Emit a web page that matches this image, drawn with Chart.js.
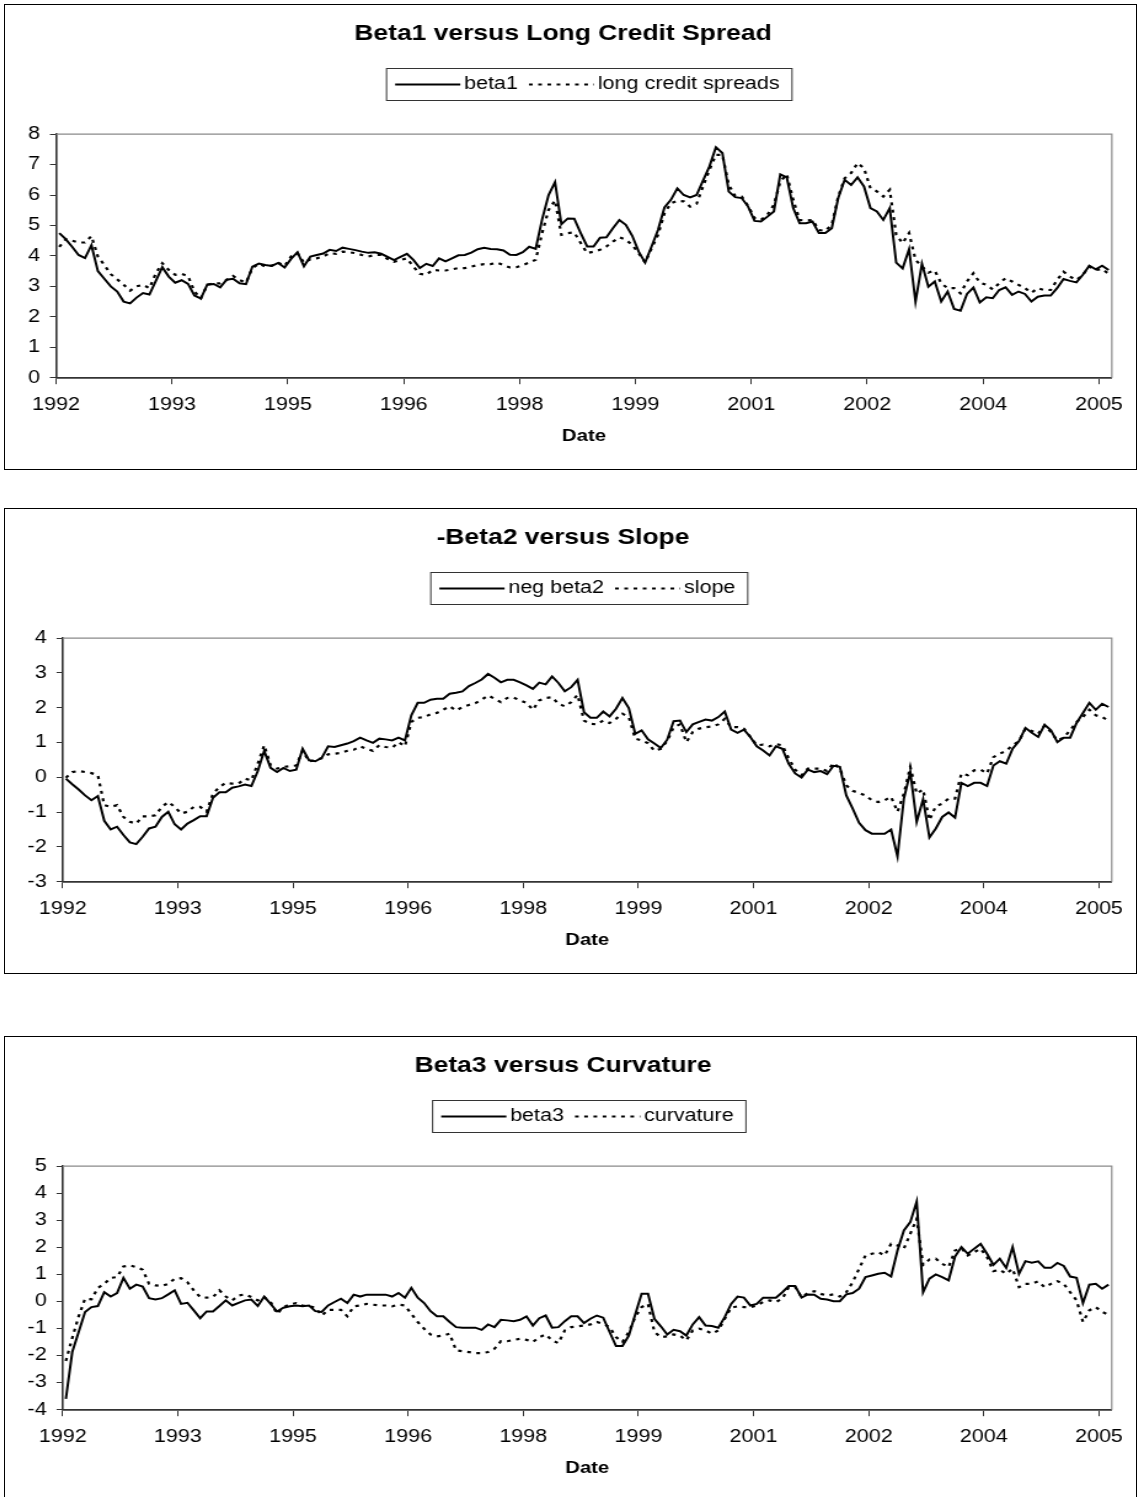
<!DOCTYPE html>
<html>
<head>
<meta charset="utf-8">
<title>Beta1, -Beta2, Beta3</title>
<script src="https://cdn.jsdelivr.net/npm/chart.js@4.4.1/dist/chart.umd.min.js"></script>
<style>
  html, body { margin: 0; padding: 0; background: #fff; }
  body { width: 1141px; height: 1497px; overflow: hidden; position: relative; }
  .chart-box { position: absolute; left: 4px; width: 1131px; height: 464px; border: 1px solid #000; overflow: hidden; background: #fff; }
  /* the original picture is stretched sideways, so the canvas is too */
  .chart-box canvas { transform: scaleX(1.23); transform-origin: 0 0; }
</style>
</head>
<body>
<div class="chart-box" style="top:4px"><canvas id="chart1" width="919" height="464"></canvas></div>
<div class="chart-box" style="top:508px"><canvas id="chart2" width="919" height="464"></canvas></div>
<div class="chart-box" style="top:1036px"><canvas id="chart3" width="919" height="464"></canvas></div>
<script>
// x axis: one point per month, a label every 18 points
const tickLabels = ['1992', '1993', '1995', '1996', '1998', '1999', '2001', '2002', '2004', '2005'];
const tickEvery = 18;

// chart 1
const beta1 = [
  4.75, 4.55, 4.3, 4.03, 3.93, 4.35, 3.5, 3.25, 3.0, 2.83,
  2.5, 2.44, 2.63, 2.78, 2.73, 3.18, 3.63, 3.32, 3.12, 3.2,
  3.08, 2.7, 2.6, 3.06, 3.08, 2.97, 3.22, 3.25, 3.1, 3.07,
  3.65, 3.75, 3.7, 3.67, 3.77, 3.62, 3.9, 4.12, 3.66, 3.98,
  4.03, 4.08, 4.2, 4.16, 4.27, 4.23, 4.19, 4.14, 4.1, 4.12,
  4.07, 3.97, 3.86, 3.97, 4.07, 3.87, 3.6, 3.74, 3.67, 3.92,
  3.82, 3.92, 4.02, 4.03, 4.11, 4.22, 4.27, 4.23, 4.22, 4.18,
  4.04, 4.03, 4.12, 4.3, 4.23, 5.2, 6.0, 6.42, 5.04, 5.23,
  5.22, 4.75, 4.31, 4.31, 4.6, 4.61, 4.91, 5.18, 5.02, 4.66,
  4.14, 3.78, 4.31, 4.85, 5.59, 5.84, 6.22, 6.0, 5.92, 6.0,
  6.47, 6.94, 7.57, 7.38, 6.11, 5.93, 5.9, 5.62, 5.15, 5.13,
  5.29, 5.46, 6.68, 6.58, 5.57, 5.07, 5.07, 5.13, 4.75, 4.75,
  4.91, 5.9, 6.5, 6.33, 6.58, 6.28, 5.57, 5.46, 5.18, 5.57,
  3.78, 3.59, 4.22, 2.5, 3.74, 2.99, 3.16, 2.5, 2.83, 2.26,
  2.2, 2.75, 2.96, 2.47, 2.64, 2.61, 2.88, 2.97, 2.72, 2.83,
  2.75, 2.5, 2.66, 2.7, 2.7, 2.94, 3.24, 3.18, 3.13, 3.38,
  3.68, 3.56, 3.68, 3.54
];
const longCreditSpreads = [
  4.3, 4.55, 4.5, 4.44, 4.44, 4.65, 3.98, 3.7, 3.4, 3.23,
  3.05, 2.86, 3.0, 3.05, 2.94, 3.43, 3.76, 3.54, 3.38, 3.41,
  3.34, 2.83, 2.61, 3.05, 3.1, 3.1, 3.21, 3.34, 3.21, 3.12,
  3.6, 3.74, 3.65, 3.68, 3.78, 3.67, 3.98, 4.09, 3.78, 3.89,
  3.92, 3.98, 4.09, 4.07, 4.14, 4.12, 4.09, 4.03, 3.98, 4.03,
  4.03, 3.9, 3.81, 3.87, 3.92, 3.65, 3.41, 3.38, 3.54, 3.52,
  3.52, 3.56, 3.6, 3.6, 3.65, 3.7, 3.73, 3.73, 3.78, 3.7,
  3.62, 3.63, 3.7, 3.78, 3.87, 4.75, 5.51, 5.82, 4.69, 4.75,
  4.77, 4.42, 4.09, 4.14, 4.2, 4.31, 4.47, 4.61, 4.53, 4.36,
  4.09, 3.78, 4.25, 4.69, 5.4, 5.73, 5.81, 5.79, 5.62, 5.71,
  6.28, 6.83, 7.32, 7.32, 6.33, 5.97, 5.95, 5.64, 5.24, 5.18,
  5.35, 5.68, 6.44, 6.68, 5.84, 5.18, 5.16, 5.18, 4.85, 4.82,
  5.02, 5.95, 6.55, 6.72, 7.05, 6.88, 6.22, 6.12, 5.95, 6.17,
  4.69, 4.42, 4.75, 3.87, 3.65, 3.45, 3.52, 3.1, 2.94, 2.94,
  2.77, 3.16, 3.43, 3.12, 3.05, 2.9, 3.1, 3.27, 3.16, 3.05,
  2.94, 2.79, 2.94, 2.88, 2.88, 3.21, 3.48, 3.32, 3.21, 3.38,
  3.65, 3.54, 3.57, 3.41
];

// chart 2
const negBeta2 = [
  -0.04, -0.2, -0.35, -0.52, -0.66, -0.54, -1.25, -1.5, -1.42, -1.66,
  -1.87, -1.92, -1.71, -1.47, -1.42, -1.14, -0.99, -1.35, -1.5, -1.33,
  -1.23, -1.12, -1.12, -0.59, -0.43, -0.43, -0.3, -0.26, -0.21, -0.25,
  0.18, 0.76, 0.27, 0.15, 0.27, 0.18, 0.22, 0.82, 0.49, 0.46,
  0.56, 0.89, 0.87, 0.92, 0.97, 1.04, 1.14, 1.06, 0.99, 1.11,
  1.09, 1.06, 1.14, 1.06, 1.78, 2.14, 2.14, 2.23, 2.26, 2.26,
  2.4, 2.43, 2.47, 2.62, 2.71, 2.81, 2.97, 2.86, 2.73, 2.8,
  2.8, 2.73, 2.64, 2.54, 2.72, 2.67, 2.9, 2.71, 2.47, 2.59,
  2.8, 1.87, 1.71, 1.71, 1.89, 1.75, 1.97, 2.28, 1.99, 1.25,
  1.35, 1.09, 0.97, 0.84, 1.08, 1.61, 1.63, 1.3, 1.52, 1.59,
  1.66, 1.63, 1.73, 1.89, 1.37, 1.28, 1.37, 1.16, 0.89, 0.77,
  0.63, 0.89, 0.82, 0.39, 0.11, -0.01, 0.22, 0.15, 0.18, 0.09,
  0.33, 0.3, -0.52, -0.9, -1.31, -1.52, -1.62, -1.62, -1.62, -1.5,
  -2.27, -0.61, 0.15, -1.28, -0.63, -1.73, -1.47, -1.14, -1.01, -1.16,
  -0.16, -0.25, -0.16, -0.16, -0.25, 0.34, 0.46, 0.39, 0.82, 1.04,
  1.42, 1.28, 1.16, 1.51, 1.35, 1.01, 1.14, 1.14, 1.56, 1.85,
  2.14, 1.94, 2.11, 2.02
];
const slope = [
  -0.01, 0.15, 0.18, 0.15, 0.12, 0.06, -0.8, -0.85, -0.8, -1.14,
  -1.28, -1.33, -1.12, -1.12, -1.09, -0.85, -0.71, -0.85, -1.04, -0.99,
  -0.85, -0.85, -0.99, -0.47, -0.28, -0.16, -0.18, -0.18, -0.04, -0.09,
  0.39, 0.92, 0.34, 0.25, 0.3, 0.32, 0.34, 0.76, 0.46, 0.49,
  0.55, 0.66, 0.68, 0.7, 0.76, 0.79, 0.89, 0.82, 0.76, 0.92,
  0.87, 0.85, 1.01, 0.89, 1.59, 1.71, 1.73, 1.81, 1.85, 1.94,
  2.04, 1.92, 2.02, 2.08, 2.13, 2.23, 2.35, 2.26, 2.16, 2.28,
  2.29, 2.21, 2.14, 1.94, 2.21, 2.28, 2.3, 2.11, 2.04, 2.16,
  2.37, 1.63, 1.54, 1.52, 1.63, 1.56, 1.68, 1.83, 1.73, 1.11,
  1.06, 0.98, 0.76, 0.82, 1.04, 1.44, 1.52, 1.01, 1.3, 1.4,
  1.44, 1.46, 1.52, 1.68, 1.44, 1.44, 1.4, 1.16, 0.92, 0.94,
  0.89, 0.95, 0.92, 0.54, 0.22, 0.06, 0.25, 0.25, 0.25, 0.18,
  0.41, 0.25, -0.23, -0.39, -0.45, -0.52, -0.66, -0.71, -0.66, -0.56,
  -0.99, -0.47, 0.3, -0.47, -0.35, -1.23, -0.83, -0.76, -0.61, -0.61,
  0.11, 0.06, 0.2, 0.22, 0.11, 0.58, 0.68, 0.76, 0.92, 1.04,
  1.4, 1.33, 1.25, 1.49, 1.3, 1.06, 1.14, 1.35, 1.59, 1.73,
  1.94, 1.78, 1.73, 1.63
];

// chart 3
const beta3 = [
  -3.6, -1.87, -1.13, -0.39, -0.21, -0.17, 0.34, 0.18, 0.31, 0.87,
  0.47, 0.62, 0.55, 0.12, 0.07, 0.12, 0.26, 0.41, -0.09, -0.05,
  -0.33, -0.62, -0.37, -0.37, -0.17, 0.04, -0.15, -0.05, 0.04, 0.07,
  -0.17, 0.18, -0.09, -0.37, -0.23, -0.18, -0.15, -0.18, -0.15, -0.36,
  -0.39, -0.15, -0.02, 0.1, -0.06, 0.25, 0.18, 0.25, 0.25, 0.25,
  0.25, 0.18, 0.31, 0.14, 0.5, 0.14, -0.06, -0.36, -0.55, -0.55,
  -0.76, -0.95, -0.97, -0.97, -0.97, -1.05, -0.85, -0.95, -0.68, -0.7,
  -0.73, -0.68, -0.55, -0.89, -0.62, -0.52, -0.97, -0.95, -0.73, -0.55,
  -0.55, -0.8, -0.64, -0.52, -0.6, -1.13, -1.65, -1.65, -1.26, -0.48,
  0.28, 0.28, -0.64, -0.92, -1.22, -1.05, -1.1, -1.26, -0.85, -0.58,
  -0.89, -0.91, -0.97, -0.58, -0.09, 0.18, 0.14, -0.15, -0.09, 0.14,
  0.14, 0.14, 0.34, 0.57, 0.57, 0.14, 0.26, 0.25, 0.1, 0.07,
  0.01, 0.01, 0.26, 0.31, 0.47, 0.9, 0.96, 1.02, 1.06, 0.92,
  1.88, 2.62, 2.93, 3.69, 0.34, 0.84, 1.0, 0.9, 0.78, 1.66,
  2.01, 1.76, 1.95, 2.13, 1.76, 1.35, 1.58, 1.24, 2.01, 1.02,
  1.49, 1.43, 1.48, 1.24, 1.24, 1.42, 1.31, 0.92, 0.87, -0.06,
  0.62, 0.65, 0.47, 0.62
];
const curvature = [
  -2.2, -1.35, -0.55, 0.1, 0.08, 0.5, 0.65, 0.87, 0.9, 1.29,
  1.33, 1.27, 1.17, 0.65, 0.59, 0.57, 0.65, 0.84, 0.86, 0.71,
  0.41, 0.16, 0.14, 0.16, 0.41, 0.18, 0.04, 0.22, 0.26, 0.16,
  0.04, 0.16, -0.02, -0.46, -0.21, -0.11, -0.06, -0.15, -0.18, -0.23,
  -0.52, -0.31, -0.31, -0.31, -0.55, -0.18, -0.15, -0.09, -0.12, -0.15,
  -0.15, -0.18, -0.12, -0.15, -0.46, -0.76, -1.01, -1.22, -1.29, -1.26,
  -1.19, -1.81, -1.84, -1.87, -1.91, -1.91, -1.87, -1.75, -1.47, -1.47,
  -1.42, -1.38, -1.42, -1.5, -1.32, -1.22, -1.44, -1.54, -1.07, -0.95,
  -0.92, -0.89, -0.85, -0.76, -0.83, -0.95, -1.32, -1.5, -1.13, -0.58,
  -0.21, -0.09, -1.13, -1.32, -1.29, -1.22, -1.26, -1.44, -1.07, -1.01,
  -1.07, -1.19, -1.07, -0.64, -0.23, -0.18, -0.21, -0.21, -0.15, -0.02,
  0.04, -0.02, 0.1, 0.53, 0.53, 0.16, 0.31, 0.38, 0.28, 0.22,
  0.26, 0.18, 0.34, 0.71, 1.21, 1.7, 1.76, 1.82, 1.7, 2.13,
  2.07, 1.95, 2.5, 3.05, 1.35, 1.55, 1.58, 1.39, 1.27, 1.88,
  1.97, 1.7, 1.82, 1.95, 1.64, 1.12, 1.17, 1.02, 1.21, 0.53,
  0.65, 0.65, 0.74, 0.53, 0.65, 0.75, 0.65, 0.34, 0.04, -0.76,
  -0.33, -0.21, -0.39, -0.49
];

const FONT = '"Liberation Sans", Arial, sans-serif';
const AXIS_COLOR = '#333';

Chart.defaults.font.family = FONT;
Chart.defaults.color = '#000';

function toPoints(values) {
  return values.map((v, i) => ({ x: i, y: v }));
}

// grey frame on the top and right side of the plot area
const plotFrame = {
  id: 'plotFrame',
  afterDraw(chart) {
    const { ctx, chartArea } = chart;
    ctx.save();
    ctx.strokeStyle = '#8a8a8a';
    ctx.lineWidth = 1.2;
    ctx.beginPath();
    ctx.moveTo(chartArea.left, chartArea.top);
    ctx.lineTo(chartArea.right, chartArea.top);
    ctx.lineTo(chartArea.right, chartArea.bottom);
    ctx.stroke();
    ctx.restore();
  }
};

// legend inside a box, Excel style
const boxLegend = {
  id: 'boxLegend',
  afterDraw(chart, args, opts) {
    const ctx = chart.ctx;
    const datasets = chart.data.datasets;
    ctx.save();
    ctx.font = opts.fontSize + 'px ' + FONT;
    const textWidths = datasets.map(ds => ctx.measureText(ds.label).width);

    let width = opts.padLeft + opts.padRight;
    textWidths.forEach((w, i) => {
      width += opts.sample + opts.gap + w;
      if (i > 0) width += opts.itemGap;
    });
    const left = opts.centerX - width / 2;
    const midY = opts.top + opts.height / 2;

    ctx.strokeStyle = '#333';
    ctx.lineWidth = 1;
    ctx.strokeRect(left, opts.top, width, opts.height);

    let x = left + opts.padLeft;
    datasets.forEach((ds, i) => {
      if (i > 0) x += opts.itemGap;
      ctx.beginPath();
      ctx.setLineDash(ds.borderDash || []);
      ctx.lineWidth = ds.borderWidth;
      ctx.strokeStyle = ds.borderColor;
      ctx.moveTo(x, midY);
      ctx.lineTo(x + opts.sample, midY);
      ctx.stroke();
      ctx.setLineDash([]);
      x += opts.sample + opts.gap;
      ctx.fillStyle = '#000';
      ctx.textBaseline = 'middle';
      ctx.textAlign = 'left';
      ctx.fillText(ds.label, x, midY);
      x += textWidths[i];
    });
    ctx.restore();
  }
};

function renderChart(canvasId, title, names, solid, dotted, yMin, yMax, yAxisWidth) {
  const ctx = document.getElementById(canvasId).getContext('2d');

  return new Chart(ctx, {
    type: 'line',
    data: {
      datasets: [
        {
          label: names[0],
          data: toPoints(solid),
          borderColor: '#000',
          borderWidth: 2,
          pointRadius: 0,
          tension: 0
        },
        {
          label: names[1],
          data: toPoints(dotted),
          borderColor: '#000',
          borderWidth: 2.2,
          borderDash: [3, 4.5],
          pointRadius: 0,
          tension: 0
        }
      ]
    },
    options: {
      responsive: false,
      animation: false,
      events: [],
      layout: { padding: { left: 0, right: 11.7, top: 0, bottom: 0 } },
      scales: {
        x: {
          type: 'linear',
          min: -0.5,
          max: solid.length - 0.5,
          afterBuildTicks: (scale) => {
            scale.ticks = tickLabels.map((t, k) => ({ value: k * tickEvery - 0.5 }));
          },
          afterFit: (scale) => { scale.height = 91.3; },
          ticks: {
            autoSkip: false,
            maxRotation: 0,
            padding: 10,
            font: { size: 17.5 },
            callback: (value, index) => tickLabels[index]
          },
          grid: { drawOnChartArea: false, tickLength: 6.5, color: AXIS_COLOR, lineWidth: 1 },
          border: { color: AXIS_COLOR, width: 1.8 },
          title: {
            display: true,
            text: 'Date',
            font: { size: 16.5, weight: 'bold' },
            padding: { top: 0, bottom: 23 }
          }
        },
        y: {
          min: yMin,
          max: yMax,
          afterFit: (scale) => { scale.width = yAxisWidth; },
          ticks: { stepSize: 1, padding: 8, font: { size: 17.5 } },
          grid: { drawOnChartArea: false, tickLength: 5, color: AXIS_COLOR, lineWidth: 1 },
          border: { color: AXIS_COLOR, width: 1.6 }
        }
      },
      plugins: {
        legend: { display: false },
        tooltip: { enabled: false },
        title: {
          display: true,
          text: title,
          color: '#000',
          font: { size: 21.5, weight: 'bold' },
          padding: { top: 16, bottom: 87.3 }
        },
        boxLegend: {
          top: 63.5,
          height: 32,
          centerX: 475,
          padLeft: 7,
          padRight: 10,
          sample: 53,
          gap: 3,
          itemGap: 9,
          fontSize: 17.5
        }
      }
    },
    plugins: [plotFrame, boxLegend]
  });
}

renderChart('chart1', 'Beta1 versus Long Credit Spread', ['beta1', 'long credit spreads'], beta1, longCreditSpreads, 0, 8, 41.5);
renderChart('chart2', '-Beta2 versus Slope', ['neg beta2', 'slope'], negBeta2, slope, -3, 4, 46.9);
renderChart('chart3', 'Beta3 versus Curvature', ['beta3', 'curvature'], beta3, curvature, -4, 5, 46.9);
</script>
</body>
</html>
